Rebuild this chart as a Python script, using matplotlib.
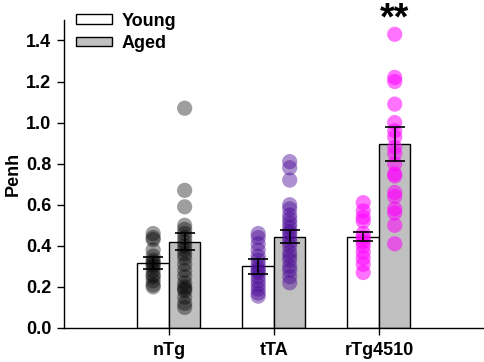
import numpy as np
import matplotlib
matplotlib.use("Agg")
import matplotlib.pyplot as plt
from matplotlib.patches import Patch

plt.rcParams['font.family'] = ['Liberation Sans', 'DejaVu Sans']
plt.rcParams['font.weight'] = 'bold'

groups = ['nTg', 'tTA', 'rTg4510']
young_mean = [0.315, 0.30, 0.445]
young_sem = [0.03, 0.035, 0.02]
aged_mean = [0.42, 0.445, 0.895]
aged_sem = [0.042, 0.03, 0.082]

young_pts = [
    [0.46, 0.44, 0.43, 0.38, 0.35, 0.33, 0.32, 0.31, 0.30, 0.28, 0.26, 0.25, 0.23, 0.21, 0.20],
    [0.46, 0.44, 0.41, 0.38, 0.35, 0.33, 0.31, 0.29, 0.28, 0.27, 0.25, 0.23, 0.21, 0.19, 0.17, 0.155],
    [0.61, 0.57, 0.54, 0.52, 0.46, 0.44, 0.42, 0.40, 0.37, 0.34, 0.31, 0.27],
]
aged_pts = [
    [1.07, 0.67, 0.59, 0.50, 0.48, 0.46, 0.44, 0.42, 0.40, 0.38, 0.36, 0.34, 0.31,
     0.28, 0.25, 0.22, 0.20, 0.19, 0.18, 0.15, 0.12, 0.10],
    [0.81, 0.78, 0.72, 0.60, 0.58, 0.55, 0.53, 0.51, 0.49, 0.47, 0.46, 0.44, 0.42,
     0.40, 0.37, 0.35, 0.33, 0.30, 0.28, 0.25, 0.22],
    [1.43, 1.22, 1.20, 1.09, 1.00, 0.96, 0.93, 0.88, 0.85, 0.80, 0.75, 0.74, 0.66,
     0.64, 0.58, 0.56, 0.50, 0.41],
]
pt_colors = ['black', '#4b0a96', '#ff00ff']
pt_alpha = [0.38, 0.45, 0.55]

fig = plt.figure(figsize=(4.84, 3.62), dpi=100)
ax = fig.add_axes([0.132, 0.094, 0.868, 0.851])

x = np.arange(1, len(groups) + 1)
w = 0.3

ax.bar(x - w / 2, young_mean, w, color='white', edgecolor='black', linewidth=1, zorder=1)
ax.bar(x + w / 2, aged_mean, w, color='#c0c0c0', edgecolor='black', linewidth=1, zorder=1)

for i in range(len(groups)):
    ax.scatter(np.full(len(young_pts[i]), x[i] - w / 2), young_pts[i], s=120,
               color=pt_colors[i], alpha=pt_alpha[i], edgecolors='none', zorder=2)
    ax.scatter(np.full(len(aged_pts[i]), x[i] + w / 2), aged_pts[i], s=120,
               color=pt_colors[i], alpha=pt_alpha[i], edgecolors='none', zorder=2)

ax.errorbar(x - w / 2, young_mean, yerr=young_sem, fmt='none', ecolor='black',
            elinewidth=1.2, capsize=7.5, capthick=1.2, zorder=3)
ax.errorbar(x + w / 2, aged_mean, yerr=aged_sem, fmt='none', ecolor='black',
            elinewidth=1.2, capsize=7.5, capthick=1.2, zorder=3)

# significance stars above the rTg4510 aged bar
ax.text(x[2] + w / 2, 1.455, '**', ha='center', va='baseline', fontsize=27,
        fontweight='bold', clip_on=False)

ax.set_xlim(0, 4)
ax.set_ylim(0, 1.5)
ax.set_yticks(np.arange(0, 1.41, 0.2))
ax.set_yticklabels(['%.1f' % v for v in np.arange(0, 1.41, 0.2)])
ax.set_xticks(x)
ax.set_xticklabels(groups)
ax.tick_params(axis='both', labelsize=13, width=1, length=5, direction='out')
ax.tick_params(axis='x', pad=5)
ax.tick_params(axis='y', pad=4)
ax.set_ylabel('Penh', fontsize=13, fontweight='bold', labelpad=3)
for s in ['top', 'right']:
    ax.spines[s].set_visible(False)
for s in ['left', 'bottom']:
    ax.spines[s].set_linewidth(1)

handles = [Patch(facecolor='white', edgecolor='black', label='Young'),
           Patch(facecolor='#c0c0c0', edgecolor='black', label='Aged')]
ax.legend(handles=handles, loc='upper left', bbox_to_anchor=(0.012, 1.047), frameon=False,
          fontsize=13, handlelength=2.0, handleheight=0.45, labelspacing=0.3,
          handletextpad=0.5, borderaxespad=0.0)

fig.savefig('out.png', dpi=100)
